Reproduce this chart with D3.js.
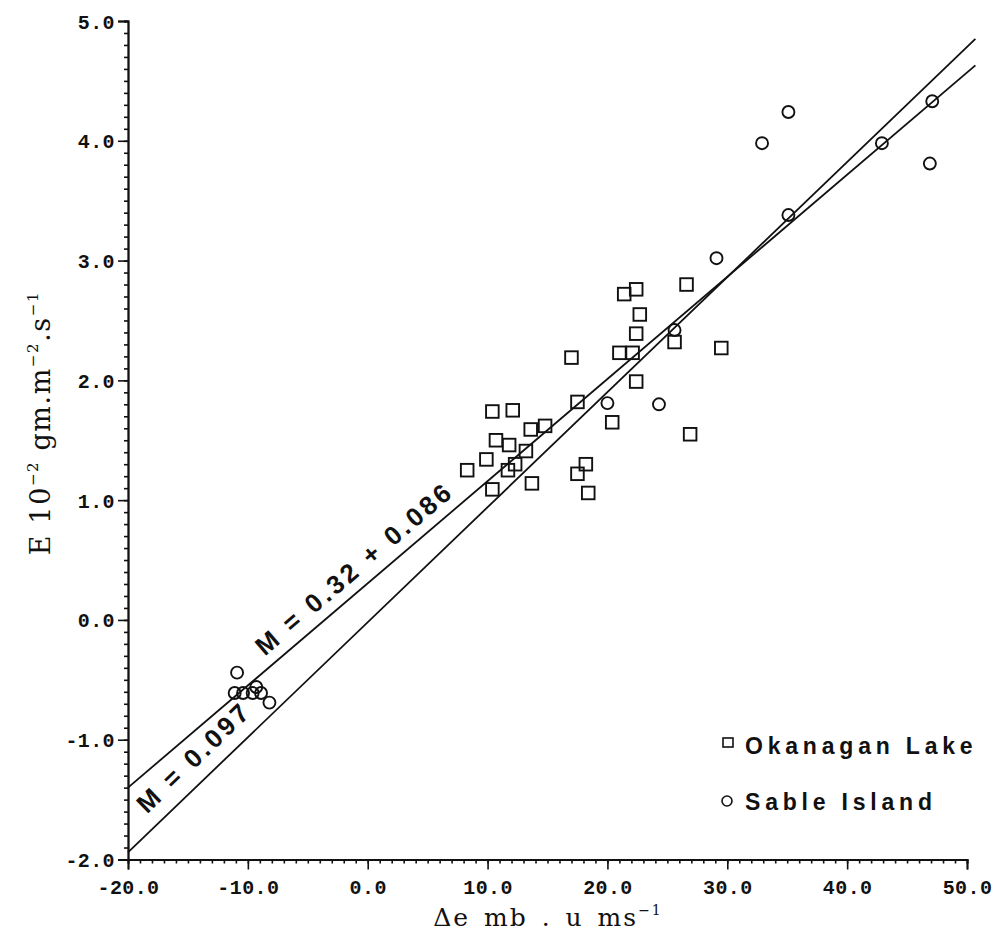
<!DOCTYPE html>
<html><head><meta charset="utf-8">
<script src="https://cdn.jsdelivr.net/npm/d3@7"></script>
<style>body{margin:0;background:#fff}</style></head>
<body><svg id="c" width="1000" height="933"></svg>
<script>
// ---- data ----
const xTicks = [-20, -10, 0, 10, 20, 30, 40, 50];
const yTicks = [-2, -1, 0, 1, 2, 3, 4, 5];
const okanaganX = [21.4, 22.4, 26.6, 22.7, 22.4, 21.0, 22.1, 17.0, 25.6, 29.5, 22.4, 17.5, 20.4, 26.9, 10.4, 12.1, 13.6, 14.8, 10.7, 11.8, 13.2, 9.9, 8.3, 12.3, 11.7, 10.4, 13.7, 18.2, 17.5, 18.4];
const okanaganY = [2.72, 2.76, 2.80, 2.55, 2.39, 2.23, 2.23, 2.19, 2.32, 2.27, 1.99, 1.82, 1.65, 1.55, 1.74, 1.75, 1.59, 1.62, 1.50, 1.46, 1.41, 1.34, 1.25, 1.30, 1.25, 1.09, 1.14, 1.30, 1.22, 1.06];
const sableX = [35.1, 32.9, 47.1, 42.9, 46.9, 35.1, 29.1, 25.6, 20.0, 24.3, -10.9, -11.1, -10.4, -9.6, -8.9, -9.3, -8.2];
const sableY = [4.24, 3.98, 4.33, 3.98, 3.81, 3.38, 3.02, 2.42, 1.81, 1.80, -0.44, -0.61, -0.61, -0.61, -0.61, -0.56, -0.69];
const fitAllX = [-20, 50.7];   // M = 0.097
const fitAllY = [-1.94, 4.85];
const fitOkX = [-20, 50.7];    // M = 0.32 + 0.086
const fitOkY = [-1.40, 4.63];
const legendLabels = ["Okanagan Lake", "Sable Island"];

const svg = d3.select("#c");
const x = d3.scaleLinear().domain([-20, 50]).range([128, 967]);
const y = d3.scaleLinear().domain([-2, 5]).range([859.5, 21]);
const ink = "#111";
const fmt = d => (d < 0 ? "-" : "") + Math.abs(d).toFixed(1);

// minor ticks
const gxMinor = svg.append("g").attr("transform", `translate(0,${y(-2)})`)
  .call(d3.axisBottom(x).tickValues(d3.range(-20, 50.01, 1)).tickSize(4).tickFormat(""));
const gyMinor = svg.append("g").attr("transform", `translate(${x(-20)},0)`)
  .call(d3.axisLeft(y).tickValues(d3.range(-20, 50.1, 1).map(v => v / 10)).tickSize(4).tickFormat(""));
// major
const gx = svg.append("g").attr("transform", `translate(0,${y(-2)})`)
  .call(d3.axisBottom(x).tickValues(xTicks).tickSize(10).tickPadding(7).tickFormat(fmt));
const gy = svg.append("g").attr("transform", `translate(${x(-20)},0)`)
  .call(d3.axisLeft(y).tickValues(yTicks).tickSize(10).tickPadding(3).tickFormat(fmt));
[gxMinor, gyMinor, gx, gy].forEach(g => {
  g.selectAll("path.domain").attr("stroke", ink).attr("stroke-width", 1.8);
  g.selectAll(".tick line").attr("stroke", ink).attr("stroke-width", 1.6);
  g.selectAll("text").attr("fill", ink)
    .style("font-family", "'Liberation Mono', monospace").style("font-weight", "bold")
    .style("font-size", "20px").style("letter-spacing", "0.4px");
});
gx.selectAll("text").attr("dy", "0.85em");
gy.selectAll("text").attr("dy", "0.35em");

// fit lines
const line = d3.line().x(d => x(d[0])).y(d => y(d[1]));
svg.append("path").attr("d", line(d3.zip(fitAllX, fitAllY)))
  .attr("fill", "none").attr("stroke", ink).attr("stroke-width", 1.8);
svg.append("path").attr("d", line(d3.zip(fitOkX, fitOkY)))
  .attr("fill", "none").attr("stroke", ink).attr("stroke-width", 1.8);

// line labels
function lineLabel(xs, ys, at, off, txt) {
  const px0 = x(xs[0]), py0 = y(ys[0]), px1 = x(xs[1]), py1 = y(ys[1]);
  const ang = Math.atan2(py1 - py0, px1 - px0) * 180 / Math.PI;
  const t = (at - xs[0]) / (xs[1] - xs[0]);
  const vx = ys[0] + t * (ys[1] - ys[0]);
  svg.append("text")
    .attr("transform", `translate(${x(at)},${y(vx)}) rotate(${ang})`)
    .attr("x", 0).attr("y", -off)
    .style("font-family", "'Liberation Sans', Arial, sans-serif").style("font-weight", "bold")
    .style("font-size", "26px").style("letter-spacing", "3.4px").attr("fill", ink)
    .text(txt);
}
lineLabel(fitAllX, fitAllY, -17.6, 14, "M = 0.097");
lineLabel(fitOkX, fitOkY, -8.0, 11, "M = 0.32 + 0.086");

// points
svg.append("g").selectAll("rect").data(d3.zip(okanaganX, okanaganY)).join("rect")
  .attr("x", d => x(d[0]) - 6.3).attr("y", d => y(d[1]) - 6.3)
  .attr("width", 12.6).attr("height", 12.6)
  .attr("fill", "none").attr("stroke", ink).attr("stroke-width", 1.9);
svg.append("g").selectAll("circle").data(d3.zip(sableX, sableY)).join("circle")
  .attr("cx", d => x(d[0])).attr("cy", d => y(d[1])).attr("r", 6)
  .attr("fill", "none").attr("stroke", ink).attr("stroke-width", 1.9);

// legend
const lg = svg.append("g");
lg.append("rect").attr("x", 723).attr("y", 738).attr("width", 10).attr("height", 9)
  .attr("fill", "none").attr("stroke", ink).attr("stroke-width", 1.6);
lg.append("circle").attr("cx", 727).attr("cy", 801).attr("r", 5)
  .attr("fill", "none").attr("stroke", ink).attr("stroke-width", 1.6);
lg.selectAll("text").data(legendLabels).join("text")
  .attr("x", 745).attr("y", (d, i) => 754 + i * 56)
  .style("font-family", "'Liberation Sans', Arial, sans-serif").style("font-weight", "bold")
  .style("font-size", "23px").style("letter-spacing", "4.8px").attr("fill", ink)
  .text(d => d);

// axis titles
const serif = "'DejaVu Serif', serif";
const xt = svg.append("text").attr("x", 548).attr("y", 926).attr("text-anchor", "middle")
  .style("font-family", serif).style("font-size", "25px").style("letter-spacing", "2px")
  .style("word-spacing", "4px").attr("fill", ink);
xt.append("tspan").text("Δe mb . u ms");
xt.append("tspan").attr("dy", -11).style("font-size", "14px").text("−1");

const yt = svg.append("text").attr("transform", "translate(50,423) rotate(-90)")
  .attr("text-anchor", "middle")
  .style("font-family", serif).style("font-size", "27px").style("letter-spacing", "1.6px")
  .attr("fill", ink);
yt.append("tspan").text("E 10");
yt.append("tspan").attr("dy", -12).style("font-size", "15px").text("−2");
yt.append("tspan").attr("dy", 12).text(" gm.m");
yt.append("tspan").attr("dy", -12).style("font-size", "15px").text("−2");
yt.append("tspan").attr("dy", 12).text(".s");
yt.append("tspan").attr("dy", -12).style("font-size", "15px").text("−1");
</script>
</body></html>
